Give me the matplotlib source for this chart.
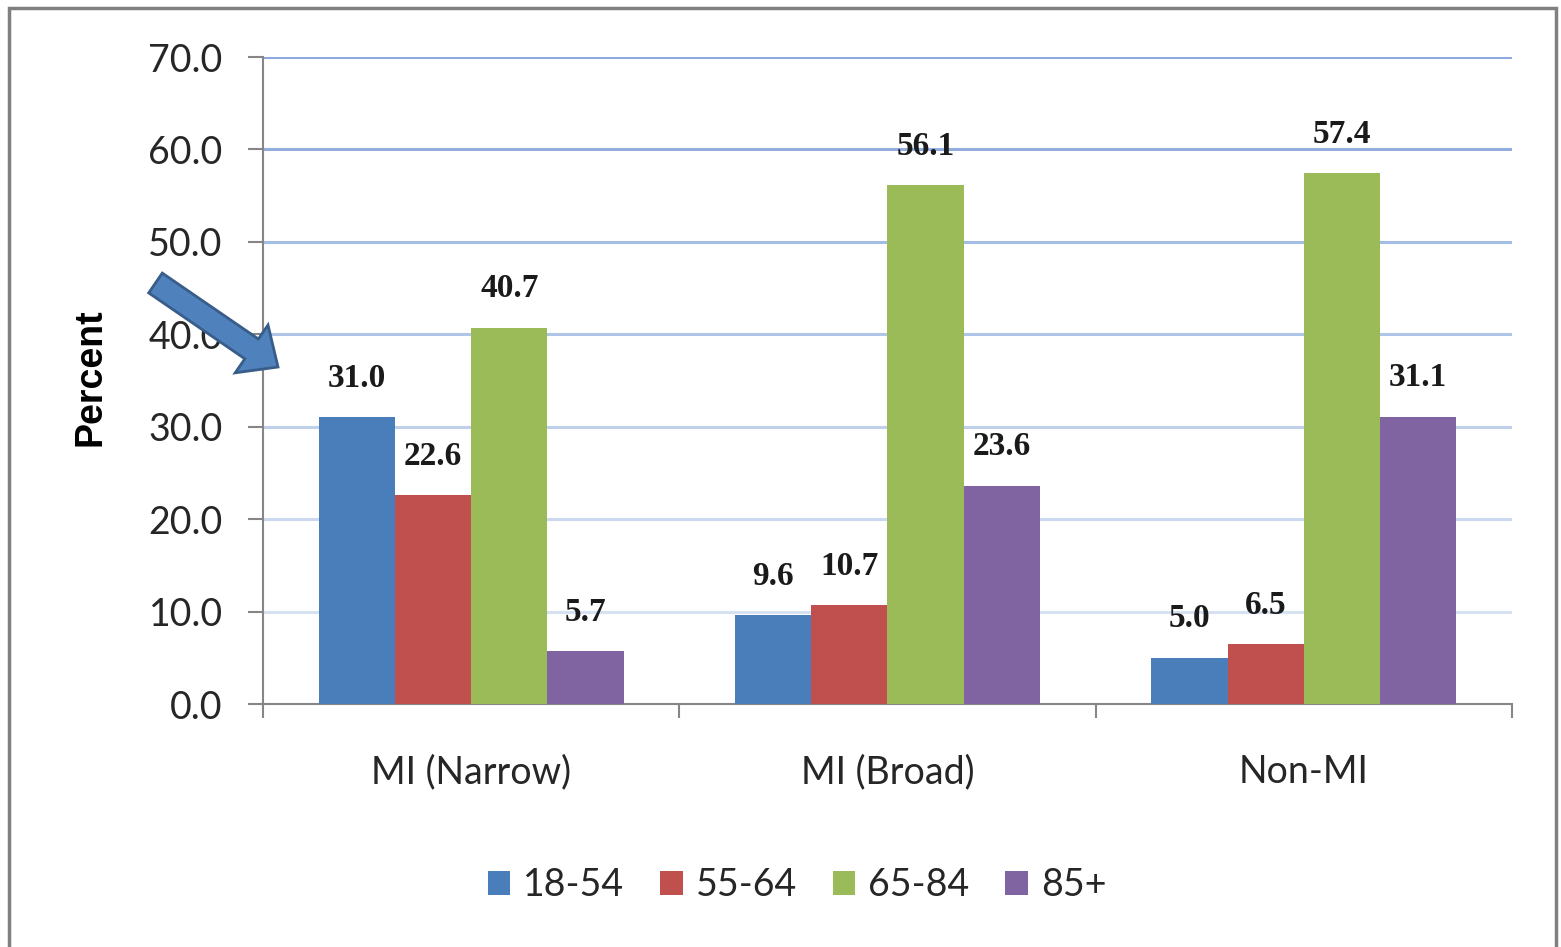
import matplotlib
matplotlib.use("Agg")
import matplotlib.pyplot as plt
import numpy as np
from matplotlib.patches import FancyArrow, Rectangle

# 数据
categories = ["MI (Narrow)", "MI (Broad)", "Non-MI"]
age_groups = ["18-54", "55-64", "65-84", "85+"]
age_18_54 = [31.0, 9.6, 5.0]
age_55_64 = [22.6, 10.7, 6.5]
age_65_84 = [40.7, 56.1, 57.4]
age_85_plus = [5.7, 23.6, 31.1]
series = [age_18_54, age_55_64, age_65_84, age_85_plus]
colors = ["#4a7ebb", "#c0504d", "#9bbb59", "#8064a2"]
yticks = [0, 10, 20, 30, 40, 50, 60, 70]
grid_colors = ["#d6e1f2", "#cbd9f0", "#bfd0ec", "#b0c6e8", "#a4bde4", "#93aede", "#8eaadc"]

plt.rcParams['font.family'] = ['Lato', 'DejaVu Sans']

fig = plt.figure(figsize=(15.61, 9.47), dpi=100)
ax = fig.add_axes([263 / 1561, 1 - 704 / 947, (1512 - 263) / 1561, (704 - 57) / 947])

x = np.arange(len(categories))
w = 0.183
for i, (vals, c) in enumerate(zip(series, colors)):
    pos = x + (i - 1.5) * w
    bars = ax.bar(pos, vals, width=w, color=c, label=age_groups[i], zorder=3)
    for b, v in zip(bars, vals):
        ax.annotate("%.1f" % v, (b.get_x() + b.get_width() / 2, v),
                    xytext=(0, 28), textcoords="offset points",
                    ha="center", va="center", fontsize=24, fontweight="bold",
                    family="Liberation Serif", color="#1a1a1a", zorder=4)

ax.set_xlim(-0.5, 2.5)
ax.set_ylim(0, 70)
ax.set_yticks(yticks)
ax.set_yticklabels(["%.1f" % t for t in yticks], fontsize=27, color="#262626")
ax.tick_params(axis="y", length=11, width=1.5, color="#868686", pad=18, direction="out")

ax.set_xticks(x)
ax.set_xticklabels(categories, fontsize=27, color="#262626")
ax.set_xticks([-0.5, 0.5, 1.5, 2.5], minor=True)
ax.tick_params(axis="x", which="major", length=0, pad=36)
ax.tick_params(axis="x", which="minor", length=10, width=1.5, color="#868686", direction="out")

for s in ["top", "right"]:
    ax.spines[s].set_visible(False)
for s in ["left", "bottom"]:
    ax.spines[s].set_color("#868686")
    ax.spines[s].set_linewidth(1.5)

# 网格线由浅到深
ax.set_axisbelow(True)
for t, gc in zip(yticks[1:], grid_colors):
    ax.axhline(t, color=gc, lw=2.2, zorder=1)

ax.set_ylabel("Percent", fontsize=27, fontweight="bold", family="Liberation Sans")
ax.yaxis.set_label_coords(-0.1236, 0.505)

fig.legend(loc="center", bbox_to_anchor=(797 / 1561, 1 - 885 / 947), ncol=4, frameon=False,
           fontsize=27, handlelength=0.6, handleheight=0.6, handletextpad=0.35,
           columnspacing=0.95, labelcolor="#262626")

# 箭头
arrow = FancyArrow(1.555, 9.47 - 2.83, 1.225, -0.84, width=0.24, head_width=0.58,
                   head_length=0.32, length_includes_head=True,
                   facecolor="#4f81bd", edgecolor="#385d8a", linewidth=2,
                   transform=fig.dpi_scale_trans, zorder=10)
fig.add_artist(arrow)

# 外框
frame = Rectangle((9 / 1561, -0.05), (1556 - 9) / 1561, 1.05 - 8 / 947,
                  transform=fig.transFigure, fill=False, edgecolor="#808080", linewidth=2.5)
fig.add_artist(frame)

fig.savefig("out.png", dpi=100)
